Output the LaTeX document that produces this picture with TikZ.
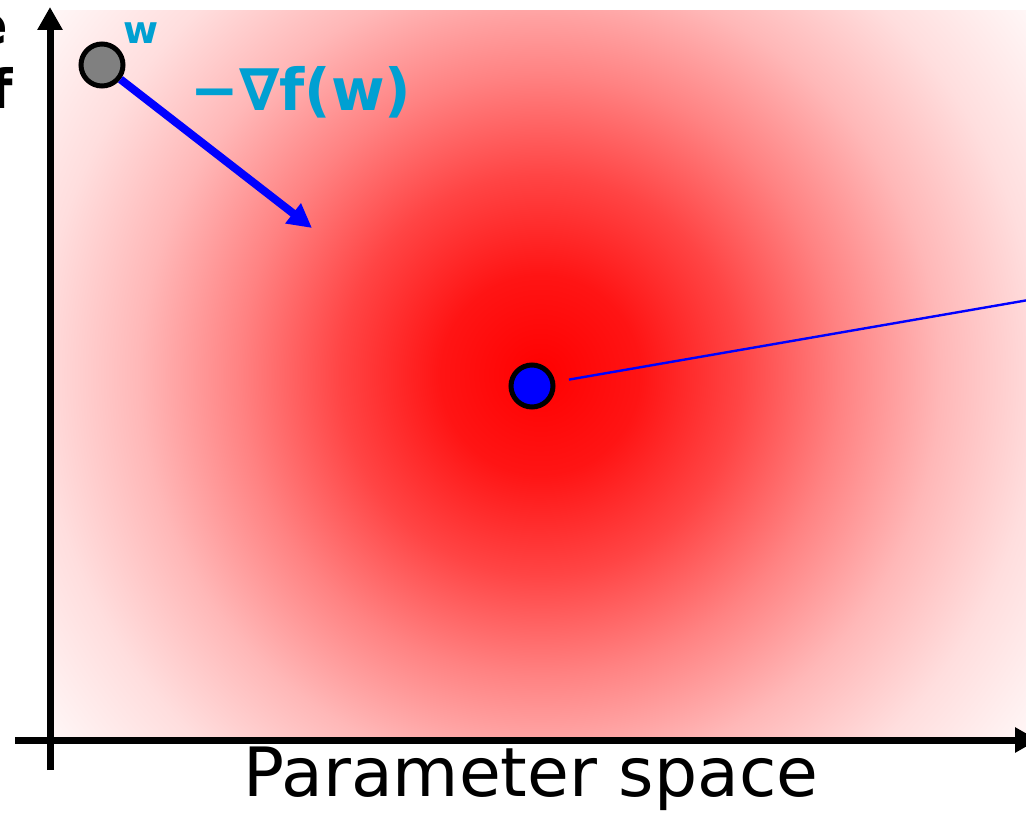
\documentclass[tikz,border=0pt]{standalone}
\usepackage{fontspec}
\setmainfont{DejaVu Sans}
\usepackage{tikz}
\usetikzlibrary{arrows.meta, positioning, calc}

\definecolor{gradcyan}{HTML}{00A0D2}
% loss surface glow, roughly gaussian falloff
\pgfdeclareradialshading{lossglow}{\pgfpoint{0bp}{0bp}}{%
	color(0bp)=(red); color(3.85bp)=(red!92!white); color(7.7bp)=(red!73!white);
	color(11.55bp)=(red!49!white); color(15.4bp)=(red!28!white);
	color(19.25bp)=(red!13!white); color(23.1bp)=(red!4!white); color(25bp)=(white);
	color(50bp)=(white)}

\begin{document}
\begin{tikzpicture}[
				x=0.5pt, y=-0.5pt,
				axis/.style={line width=3.5pt, -{Triangle[length=11.5pt, width=12pt]}},
				param/.style={circle, draw=black, line width=2.5pt, minimum size=21pt, inner sep=0pt},
				gradarrow/.style={line width=4pt, draw=blue, -{Triangle[length=12pt, width=12pt]}},
				optline/.style={line width=1.2pt, draw=blue, shorten <=7pt},
				annot/.style={text=gradcyan, font=\bfseries}
				]
				\useasboundingbox (0,0) rectangle (1026,813);
				
				% --- Background: loss landscape ---
				\begin{scope}
					\clip (54,11) rectangle (1026,736);
					\shade[shading=lossglow] (540,375) circle (650);
				\end{scope}
				
				% --- Axes ---
				\coordinate (ybot) at (50,770);
				\coordinate (ytop) at (50,7);
				\coordinate (xleft) at (15,740);
				\coordinate (xright) at (1038,740);
				\draw[axis] (ybot) -- (ytop);
				\draw[axis] (xleft) -- (xright);
				\node[anchor=base, font=\fontsize{34}{40}\selectfont] (xlabel) at (531,796) {Parameter space};
				\node[anchor=east, font=\fontsize{27}{32}\selectfont\bfseries, inner sep=0pt] (ylabA) at (9,30) {e};
				\node[anchor=east, font=\fontsize{27}{32}\selectfont\bfseries, inner sep=0pt] (ylabB) at (13,88) {f};
				
				% --- Current weights and gradient step ---
				\node[param, fill=gray] (w) at (102,65) {};
				\node[param, fill=blue] (opt) at (532,386) {};
				\node[annot, font=\fontsize{19}{22}\selectfont\bfseries] (wlab) at (141,33) {w};
				\coordinate (step) at (312,228);
				\draw[gradarrow] (w) -- (step);
				\node[annot, font=\fontsize{29}{34}\selectfont\bfseries] (gradlab) at (301,92) {−∇f(w)};
				
				% --- Line off to the right ---
				\coordinate (far) at (1040,298);
				\draw[optline] (opt) -- (far);
			\end{tikzpicture}
\end{document}
